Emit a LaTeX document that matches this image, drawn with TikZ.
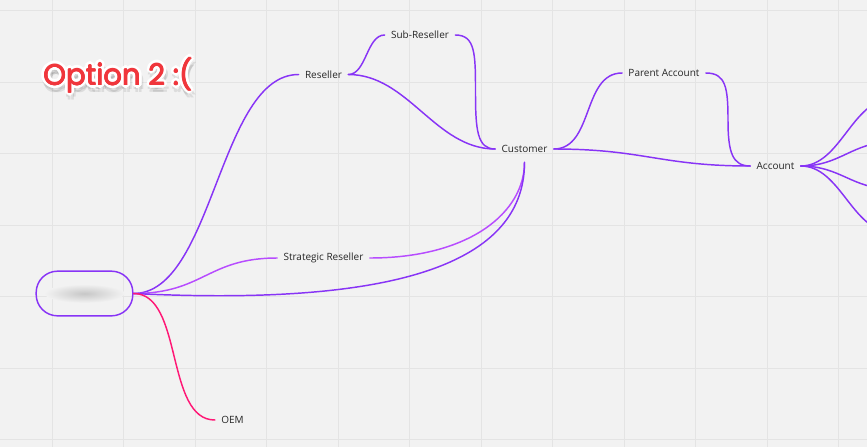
\documentclass[tikz,border=0pt]{standalone}
\usepackage{fontspec}
\setmainfont{Open Sans}
\newfontfamily\titlefont{Poppins}
\usetikzlibrary{positioning}

\begin{document}
\begin{tikzpicture}[x=0.75pt, y=-0.75pt,
	topic/.style={font=\fontsize{7.5}{9}\selectfont, text=black!85, inner xsep=4.6pt, inner ysep=2pt},
	branch/.style={line width=1.1pt, draw=#1, line cap=round},
	rootbox/.style={draw=mmviolet, line width=1.1pt, rounded corners=16pt, minimum width=72.5pt, minimum height=33.5pt},
	gridline/.style={draw=gridcol, line width=0.6pt},
	titletext/.style={font=\titlefont\fontsize{21.8}{25}\selectfont, anchor=base west, inner sep=0pt}
	]
	
	% Define colors
	\definecolor{bgcol}{RGB}{242,242,242}
	\definecolor{gridcol}{RGB}{228,228,228}
	\definecolor{mmviolet}{RGB}{136,52,246}
	\definecolor{mmlilac}{RGB}{183,76,255}
	\definecolor{mmpink}{RGB}{255,24,118}
	\definecolor{titlered}{RGB}{240,54,60}
	
	% 1. Board background with grid
	\clip (0,0) rectangle (867,447);
	\fill[bgcol] (0,0) rectangle (867,447);
	\foreach \gx in {52,123.5,...,867} {
		\draw[gridline] (\gx,0) -- (\gx,447);
	}
	\foreach \gy in {10.5,82,...,447} {
		\draw[gridline] (0,\gy) -- (867,\gy);
	}
	
	% 2. Title with white outline and soft shadow
	\foreach \a in {0,60,...,300} {
		\node[titletext, text=black, opacity=0.09, xshift={1pt+2.6pt*cos(\a)}, yshift={-3pt+2.6pt*sin(\a)}] (title-s\a) at (43,85) {Option 2 :(};
	}
	\foreach \a in {0,30,...,330} {
		\node[titletext, text=white, xshift={2.4pt*cos(\a)}, yshift={2.4pt*sin(\a)}] (title-w\a) at (43,85) {Option 2 :(};
	}
	\foreach \a in {0,90,...,270} {
		\node[titletext, text=titlered, xshift={0.35pt*cos(\a)}, yshift={0.35pt*sin(\a)}] (title-r\a) at (43,85) {Option 2 :(};
	}
	\node[titletext, text=titlered] (title) at (43,85) {Option 2 :(};
	
	% 3. Root topic (text hidden by blur)
	\node[rootbox] (root) at (84.5,293.5) {};
	\shade[inner color=black!22, outer color=bgcol] (root.center) ellipse (30pt and 7pt);
	
	% 4. Topics
	\node[topic] (reseller) at (323.5,74.5) {Reseller};
	\node[topic] (subreseller) at (420,35) {Sub-Reseller};
	\node[topic, inner ysep=7pt] (customer) at (524.5,149) {Customer};
	\node[topic] (parentaccount) at (664,73) {Parent Account};
	\node[topic] (account) at (775.5,166) {Account};
	\node[topic] (strategic) at (323.5,258) {Strategic Reseller};
	\node[topic] (oem) at (232.5,420) {OEM};
	
	% bends and free ends of the branches
	\coordinate (sub-bend) at (475.5,92);
	\coordinate (parent-bend) at (728,120);
	\coordinate (acc-a) at (892,99);
	\coordinate (acc-b) at (892,142);
	\coordinate (acc-c) at (892,189);
	\coordinate (acc-d) at (892,232);
	
	% 5. Branches
	\draw[branch=mmviolet] (root.east) .. controls +(80,0) and +(-80,0) .. (reseller.west);
	\draw[branch=mmviolet] (reseller.east) .. controls +(18,0) and +(-18,0) .. (subreseller.west);
	\draw[branch=mmviolet] (reseller.east) .. controls +(60,0) and +(-60,0) .. (customer.west);
	\draw[branch=mmviolet] (subreseller.east) .. controls +(20,0) and +(0,-38) .. (sub-bend)
		.. controls +(0,38) and +(-18,0) .. (customer.west);
	\draw[branch=mmviolet] (customer.east) .. controls +(40,0) and +(-40,0) .. (parentaccount.west);
	\draw[branch=mmviolet] (customer.east) .. controls +(90,0) and +(-90,0) .. (account.west);
	\draw[branch=mmviolet] (parentaccount.east) .. controls +(20,0) and +(0,-32) .. (parent-bend)
		.. controls +(0,32) and +(-18,0) .. (account.west);
	\foreach \c in {a,b,c,d} {
		\draw[branch=mmviolet] (account.east) .. controls +(40,0) and +(-40,0) .. (acc-\c);
	}
	
	\draw[branch=mmlilac] (root.east) .. controls +(70,0) and +(-70,0) .. (strategic.west);
	\draw[branch=mmlilac] (strategic.east) .. controls +(100,0) and +(0,50) .. (customer.south);
	\draw[branch=mmviolet] (root.east) .. controls +(245,12) and +(0,108) .. (customer.south);
	
	\draw[branch=mmpink] (root.east) .. controls +(50,0) and +(-50,0) .. (oem.west);
	
\end{tikzpicture}
\end{document}
